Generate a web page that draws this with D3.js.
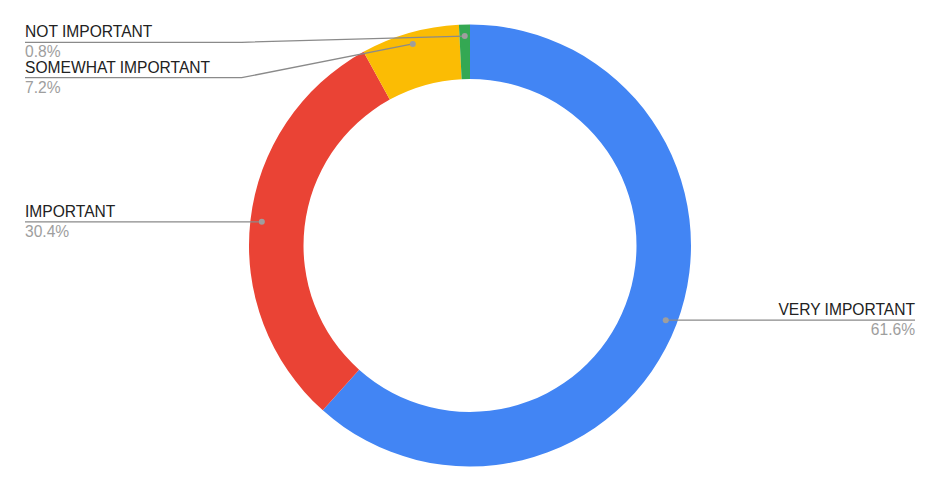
<!DOCTYPE html>
<html>
<head>
<meta charset="utf-8">
<script src="https://cdn.jsdelivr.net/npm/d3@7"></script>
<style>
  html, body { margin: 0; padding: 0; background: #fff; }
  svg { display: block; }
  text { font-family: "Liberation Sans", Arial, sans-serif; }
</style>
</head>
<body>
<svg id="chart" width="940" height="490"></svg>
<script>
// Data
const categories = ["VERY IMPORTANT", "IMPORTANT", "SOMEWHAT IMPORTANT", "NOT IMPORTANT"];
const values = [61.6, 30.4, 7.2, 0.8];
const valueLabels = ["61.6%", "30.4%", "7.2%", "0.8%"];
const colors = ["#4285f4", "#ea4335", "#fbbc04", "#34a853"];

const svg = d3.select("#chart");
const W = 940, H = 490;
const cx = 470, cy = 245.5;
const outerR = 221, innerR = 166.5, dotR = 209.5;

const data = categories.map((c, i) => ({ name: c, value: values[i], label: valueLabels[i], color: colors[i] }));

const pie = d3.pie().value(d => d.value).sort(null).startAngle(0).endAngle(2 * Math.PI);
const arcs = pie(data);
const arc = d3.arc().innerRadius(innerR).outerRadius(outerR);
const dotArc = d3.arc().innerRadius(dotR).outerRadius(dotR);

const g = svg.append("g").attr("transform", `translate(${cx},${cy})`);
g.selectAll("path.slice").data(arcs).enter().append("path")
  .attr("class", "slice")
  .attr("d", arc)
  .attr("fill", d => d.data.color);

// Label layout: side, line y, bend x
const layout = {
  "VERY IMPORTANT": { side: "right", x: 915 },
  "IMPORTANT": { side: "left", x: 25 },
  "SOMEWHAT IMPORTANT": { side: "left", x: 25, y: 77.7, bend: 241.7 },
  "NOT IMPORTANT": { side: "left", x: 25, y: 42.3, bend: 241.7 }
};

const lineColor = "#8a8a8a";
const lbl = svg.append("g");
arcs.forEach(a => {
  const [dx, dy] = dotArc.centroid(a);
  const px = cx + dx, py = cy + dy;
  const L = layout[a.data.name];
  const ly = L.y !== undefined ? L.y : py;
  let pts;
  if (L.side === "right") {
    pts = [[px, py], [L.x, ly]];
  } else if (L.bend !== undefined) {
    pts = [[L.x, ly], [L.bend, ly], [px, py]];
  } else {
    pts = [[L.x, ly], [px, py]];
  }
  lbl.append("path")
    .attr("d", d3.line()(pts))
    .attr("fill", "none")
    .attr("stroke", lineColor)
    .attr("stroke-width", 1.3);
  lbl.append("circle")
    .attr("cx", px).attr("cy", py).attr("r", 3)
    .attr("fill", "#9e9e9e");
  const anchor = L.side === "right" ? "end" : "start";
  lbl.append("text")
    .attr("x", L.x).attr("y", ly - 5)
    .attr("text-anchor", anchor)
    .attr("font-size", "15.6px")
    .attr("fill", "#222222")
    .text(a.data.name);
  lbl.append("text")
    .attr("x", L.x).attr("y", ly + 15)
    .attr("text-anchor", anchor)
    .attr("font-size", "15.6px")
    .attr("fill", "#9e9e9e")
    .text(a.data.label);
});
</script>
</body>
</html>
